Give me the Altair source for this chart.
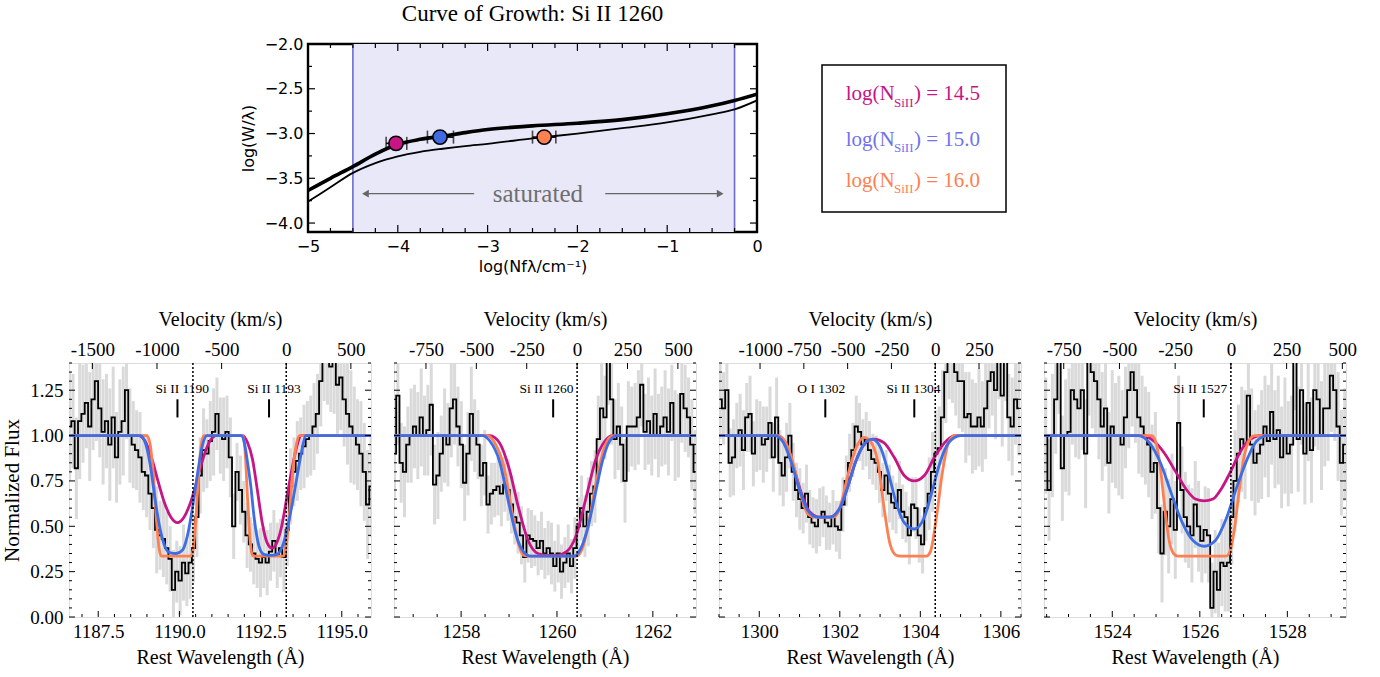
import altair as alt
import pandas as pd

C_KMS = 299792.458
SERIF = "Liberation Serif"
SANS = "DejaVu Sans"
MAG = "#C71585"
BLU = "#3D6EE6"
ORA = "#FF7F50"

# ---------------- Curve of growth ----------------
COG_X = [-5.0, -4.75, -4.5, -4.25, -4.0, -3.75, -3.5, -3.25, -3.0, -2.5, -2.0, -1.5, -1.0, -0.5, -0.25, 0.0]
COG_THICK = [-3.636, -3.50, -3.37, -3.23, -3.12, -3.065, -3.03, -2.99, -2.955, -2.915, -2.885, -2.845, -2.78, -2.69, -2.63, -2.56]
COG_THIN = [-3.76, -3.60, -3.44, -3.33, -3.255, -3.205, -3.17, -3.14, -3.115, -3.055, -3.0, -2.94, -2.875, -2.785, -2.73, -2.63]
PT_X = [-4.02, -3.53, -2.37]
PT_Y = [-3.11, -3.04, -3.04]
PT_XLO = [-4.13, -3.67, -2.50]
PT_XHI = [-3.90, -3.38, -2.24]
PT_COLORS = [MAG, "#4169E1", "#FF8050"]
SAT_RANGE = [-4.5, -0.25]
ARROW_TAIL = [-3.15, -1.69]
ARROW_HEAD = [-4.36, -0.41]
ARROW_SHAPE = ["triangle-left", "triangle-right"]
ARROW_Y = -3.672
SAT_LABEL_X = -2.44
COG_XTICKS = [-5, -4, -3, -2, -1, 0]
COG_YTICKS = [-4.0, -3.5, -3.0, -2.5, -2.0]

# ---------------- Legend ----------------
LEG_VALUES = ["14.5", "15.0", "16.0"]
LEG_COLORS = ["#C71585", "#7272EE", "#FF7F50"]

# ---------------- Spectra ----------------
Y_MAJ = [0.0, 0.25, 0.5, 0.75, 1.0, 1.25]

P1_DOM = [1186.6, 1195.9]
P1_LAM0 = 1193.29
P1_START, P1_STEP = 1186.62, 0.1031
P1_FLUX = [1.05, 1.08, 0.82, 1.08, 1.12, 1.18, 1.05, 1.20, 1.30, 1.15,
           1.02, 1.08, 0.95, 1.10, 0.88, 1.02, 1.08, 1.25, 1.00, 0.95,
           0.92, 0.88, 0.80, 0.78, 0.68, 0.60, 0.48, 0.45, 0.43, 0.38,
           0.32, 0.15, 0.25, 0.20, 0.30, 0.24, 0.30, 0.38, 0.55, 0.78,
           0.92, 0.90, 0.97, 1.02, 1.12, 1.00, 0.98, 1.02, 0.88, 0.50,
           0.80, 0.70, 0.58, 0.45, 0.40, 0.35, 0.32, 0.30, 0.33, 0.30,
           0.36, 0.42, 0.34, 0.38, 0.33, 0.48, 0.72, 0.80, 0.86, 0.90,
           0.94, 0.98, 1.00, 1.05, 1.12, 1.30, 1.45, 1.45, 1.38, 1.42,
           1.28, 1.32, 1.20, 1.12, 1.05, 1.00, 0.95, 0.90, 0.80, 0.62,
           0.72]
P1_ERR = [0.30, 0.26, 0.28, 0.32, 0.27, 0.25, 0.30, 0.28, 0.33, 0.27,
          0.29, 0.26, 0.31, 0.28, 0.25, 0.29, 0.30, 0.27, 0.26, 0.24,
          0.22, 0.25, 0.21, 0.23, 0.20, 0.22, 0.24, 0.19, 0.21, 0.20,
          0.18, 0.22, 0.17, 0.19, 0.21, 0.18, 0.20, 0.19, 0.22, 0.21,
          0.23, 0.19, 0.22, 0.24, 0.20, 0.21, 0.23, 0.20, 0.22, 0.18,
          0.16, 0.19, 0.17, 0.18, 0.15, 0.17, 0.16, 0.19, 0.17, 0.18,
          0.16, 0.17, 0.18, 0.16, 0.19, 0.20, 0.21, 0.19, 0.22, 0.20,
          0.23, 0.21, 0.22, 0.24, 0.22, 0.25, 0.26, 0.28, 0.25, 0.30,
          0.27, 0.29, 0.26, 0.28, 0.31, 0.27, 0.25, 0.29, 0.27, 0.30,
          0.28]
P1_MAG_W = [1186.6, 1188.74, 1188.94, 1189.14, 1189.34, 1189.54, 1189.74, 1189.94, 1190.14, 1190.34, 1190.54, 1190.74, 1190.94, 1191.14,
            1191.95, 1192.1, 1192.25, 1192.4, 1192.55, 1192.7, 1192.85, 1193.0, 1193.15, 1193.3, 1193.45, 1193.6, 1193.75, 1195.9]
P1_MAG_F = [1.0, 1.0, 0.97, 0.88, 0.75, 0.63, 0.55, 0.52, 0.55, 0.63, 0.75, 0.88, 0.97, 1.0,
            1.0, 0.96, 0.87, 0.70, 0.52, 0.41, 0.38, 0.41, 0.50, 0.65, 0.80, 0.93, 1.0, 1.0]
P1_BLU_W = [1186.6, 1188.8, 1188.95, 1189.1, 1189.25, 1189.4, 1189.55, 1189.7, 1189.9, 1190.1, 1190.25, 1190.4, 1190.55, 1190.7, 1190.85,
            1191.9, 1192.0, 1192.1, 1192.2, 1192.3, 1192.45, 1192.6, 1192.8, 1193.0, 1193.15, 1193.3, 1193.45, 1193.6, 1193.75, 1193.9, 1195.9]
P1_BLU_F = [1.0, 1.0, 0.96, 0.84, 0.65, 0.49, 0.39, 0.355, 0.35, 0.37, 0.45, 0.60, 0.78, 0.94, 1.0,
            1.0, 0.96, 0.85, 0.72, 0.55, 0.39, 0.345, 0.34, 0.345, 0.38, 0.47, 0.60, 0.75, 0.90, 1.0, 1.0]
P1_ORA_W = [1186.6, 1189.0, 1189.1, 1189.2, 1189.3, 1189.38, 1189.45, 1190.35, 1190.42, 1190.5, 1190.58, 1190.66, 1190.75,
            1191.95, 1192.02, 1192.1, 1192.18, 1192.25, 1192.32, 1193.2, 1193.28, 1193.38, 1193.48, 1193.58, 1193.7, 1195.9]
P1_ORA_F = [1.0, 1.0, 0.95, 0.78, 0.52, 0.37, 0.335, 0.335, 0.37, 0.52, 0.75, 0.93, 1.0,
            1.0, 0.92, 0.65, 0.42, 0.34, 0.335, 0.335, 0.38, 0.55, 0.78, 0.93, 1.0, 1.0]
P1_DOTTED = [1190.416, 1193.29]
P1_MARKS = [1189.94, 1192.76]
P1_LABELS = ["Si II 1190", "Si II 1193"]
P1_LABEL_W = [1190.09, 1192.91]
P1_XMAJ = [1187.5, 1190.0, 1192.5, 1195.0]
P1_VTICKS = [-1500, -1000, -500, 0, 500]

P2_DOM = [1256.6, 1262.9]
P2_LAM0 = 1260.42
P2_START, P2_STEP = 1256.61, 0.0697
P2_FLUX = [0.90, 1.22, 0.85, 0.80, 0.95, 1.00, 1.05, 1.00, 1.10, 1.00,
           1.03, 1.17, 0.73, 0.78, 0.90, 1.00, 0.95, 1.15, 1.20, 1.05,
           0.95, 0.74, 0.90, 1.12, 1.00, 0.95, 0.78, 0.85, 0.62, 0.68,
           0.70, 0.72, 0.68, 0.73, 0.70, 0.62, 0.55, 0.52, 0.45, 0.33,
           0.45, 0.43, 0.42, 0.38, 0.42, 0.35, 0.38, 0.35, 0.28, 0.35,
           0.25, 0.30, 0.35, 0.28, 0.38, 0.50, 0.60, 0.50, 0.58, 0.68,
           0.72, 0.98, 1.15, 1.10, 1.45, 1.20, 0.98, 1.05, 0.95, 0.75,
           1.05, 1.05, 1.05, 1.10, 1.28, 1.02, 1.08, 1.00, 1.12, 1.00,
           1.05, 1.10, 1.02, 1.18, 1.00, 1.00, 1.23, 1.15, 1.10, 0.95,
           0.80]
P2_ERR = [0.24, 0.27, 0.22, 0.25, 0.21, 0.26, 0.23, 0.24, 0.27, 0.22,
          0.25, 0.28, 0.22, 0.24, 0.21, 0.26, 0.23, 0.27, 0.25, 0.22,
          0.24, 0.21, 0.23, 0.26, 0.20, 0.19, 0.17, 0.18, 0.16, 0.17,
          0.15, 0.16, 0.18, 0.15, 0.17, 0.16, 0.15, 0.17, 0.16, 0.14,
          0.15, 0.16, 0.14, 0.15, 0.16, 0.14, 0.15, 0.17, 0.14, 0.16,
          0.15, 0.14, 0.16, 0.15, 0.17, 0.16, 0.18, 0.17, 0.19, 0.18,
          0.20, 0.24, 0.26, 0.23, 0.28, 0.25, 0.22, 0.24, 0.21, 0.23,
          0.25, 0.22, 0.24, 0.26, 0.23, 0.21, 0.24, 0.22, 0.25, 0.23,
          0.22, 0.26, 0.24, 0.21, 0.25, 0.23, 0.27, 0.24, 0.22, 0.25,
          0.23]
P2_MAG_W = [1256.6, 1258.6, 1258.8, 1259.0, 1259.2, 1259.4, 1259.6, 1259.8, 1260.0, 1260.2, 1260.4, 1260.6, 1260.8, 1261.0, 1261.15, 1262.9]
P2_MAG_F = [1.0, 1.0, 0.96, 0.82, 0.60, 0.42, 0.35, 0.34, 0.34, 0.36, 0.45, 0.65, 0.86, 0.97, 1.0, 1.0]
P2_BLU_W = [1256.6, 1258.45, 1258.6, 1258.8, 1259.0, 1259.15, 1259.3, 1259.45, 1260.35, 1260.5, 1260.65, 1260.8, 1260.95, 1261.1, 1261.25, 1262.9]
P2_BLU_F = [1.0, 1.0, 0.97, 0.86, 0.62, 0.45, 0.36, 0.335, 0.335, 0.38, 0.50, 0.68, 0.86, 0.97, 1.0, 1.0]
P2_ORA_W = [1256.6, 1258.55, 1258.7, 1258.9, 1259.05, 1259.2, 1259.3, 1259.4, 1260.4, 1260.5, 1260.65, 1260.8, 1260.95, 1261.1, 1261.2, 1262.9]
P2_ORA_F = [1.0, 1.0, 0.96, 0.82, 0.60, 0.40, 0.34, 0.335, 0.335, 0.36, 0.50, 0.72, 0.90, 0.99, 1.0, 1.0]
P2_DOTTED = [1260.42]
P2_MARKS = [1259.92]
P2_LABELS = ["Si II 1260"]
P2_LABEL_W = [1259.78]
P2_XMAJ = [1258, 1260, 1262]
P2_VTICKS = [-750, -500, -250, 0, 250, 500]

P3_DOM = [1299.0, 1306.5]
P3_LAM0 = 1304.37
P3_START, P3_STEP = 1299.03, 0.0824
P3_FLUX = [1.20, 1.15, 1.25, 0.85, 0.88, 1.00, 1.03, 0.92, 1.10, 1.12,
           0.90, 1.00, 1.00, 0.95, 0.98, 1.07, 0.88, 1.10, 0.85, 0.78,
           0.88, 1.00, 0.80, 0.70, 0.65, 0.60, 0.68, 0.55, 0.52, 0.50,
           0.55, 0.58, 0.52, 0.50, 0.55, 0.50, 0.48, 0.62, 0.75, 0.85,
           0.92, 1.05, 1.02, 0.95, 0.98, 0.92, 0.87, 0.85, 0.80, 0.70,
           0.78, 0.68, 0.63, 0.60, 0.70, 0.58, 0.55, 0.45, 0.62, 0.60,
           0.45, 0.40, 0.60, 0.68, 0.80, 0.90, 0.93, 1.10, 1.35, 1.45,
           1.45, 1.35, 1.30, 1.30, 1.10, 1.12, 1.05, 1.05, 1.10, 1.05,
           1.15, 1.30, 1.35, 1.25, 1.45, 1.22, 1.45, 1.10, 1.05, 1.20,
           1.15]
P3_ERR = [0.22, 0.20, 0.24, 0.19, 0.21, 0.18, 0.20, 0.22, 0.19, 0.21,
          0.18, 0.20, 0.19, 0.21, 0.18, 0.20, 0.19, 0.22, 0.18, 0.17,
          0.19, 0.18, 0.16, 0.15, 0.17, 0.14, 0.16, 0.15, 0.14, 0.15,
          0.16, 0.14, 0.15, 0.13, 0.15, 0.14, 0.16, 0.15, 0.14, 0.16,
          0.15, 0.17, 0.16, 0.14, 0.15, 0.16, 0.14, 0.15, 0.17, 0.15,
          0.14, 0.16, 0.15, 0.14, 0.16, 0.15, 0.14, 0.16, 0.15, 0.17,
          0.15, 0.16, 0.18, 0.20, 0.22, 0.24, 0.23, 0.26, 0.28, 0.25,
          0.27, 0.24, 0.26, 0.28, 0.25, 0.23, 0.26, 0.24, 0.27, 0.25,
          0.28, 0.26, 0.24, 0.27, 0.25, 0.28, 0.26, 0.24, 0.27, 0.25,
          0.26]
P3_MAG_W = [1299.0, 1300.45, 1300.65, 1300.85, 1301.05, 1301.25, 1301.5, 1301.75, 1302.0, 1302.2, 1302.4, 1302.6, 1302.85,
            1303.1, 1303.35, 1303.6, 1303.85, 1304.1, 1304.35, 1304.6, 1304.85, 1306.5]
P3_MAG_F = [1.0, 1.0, 0.96, 0.83, 0.68, 0.58, 0.55, 0.55, 0.60, 0.72, 0.86, 0.95, 0.98,
            0.96, 0.88, 0.78, 0.75, 0.78, 0.88, 0.96, 1.0, 1.0]
P3_BLU_W = [1299.0, 1300.4, 1300.6, 1300.8, 1301.0, 1301.2, 1301.45, 1301.75, 1302.0, 1302.2, 1302.4, 1302.6, 1302.8,
            1303.0, 1303.2, 1303.4, 1303.6, 1303.85, 1304.1, 1304.3, 1304.5, 1304.7, 1305.0, 1306.5]
P3_BLU_F = [1.0, 1.0, 0.96, 0.85, 0.70, 0.59, 0.55, 0.55, 0.60, 0.72, 0.86, 0.95, 0.98,
            0.94, 0.80, 0.63, 0.52, 0.485, 0.55, 0.70, 0.86, 0.96, 1.0, 1.0]
P3_ORA_W = [1299.0, 1300.45, 1300.6, 1300.8, 1301.0, 1301.2, 1301.4, 1301.85, 1302.0, 1302.2, 1302.4, 1302.6, 1302.75,
            1302.95, 1303.1, 1303.25, 1303.4, 1303.5, 1304.15, 1304.25, 1304.4, 1304.55, 1304.7, 1304.85, 1306.5]
P3_ORA_F = [1.0, 1.0, 0.98, 0.88, 0.70, 0.57, 0.55, 0.55, 0.60, 0.78, 0.93, 0.99, 0.97,
            0.85, 0.60, 0.40, 0.34, 0.335, 0.335, 0.36, 0.55, 0.80, 0.96, 1.0, 1.0]
P3_DOTTED = [1304.37]
P3_MARKS = [1301.64, 1303.85]
P3_LABELS = ["O I 1302", "Si II 1304"]
P3_LABEL_W = [1301.54, 1303.83]
P3_XMAJ = [1300, 1302, 1304, 1306]
P3_VTICKS = [-1000, -750, -500, -250, 0, 250]

P4_DOM = [1522.44, 1529.34]
P4_LAM0 = 1526.71
P4_START, P4_STEP = 1522.48, 0.0759
P4_FLUX = [1.00, 0.70, 1.00, 1.20, 1.45, 0.82, 1.00, 1.02, 1.25, 1.20,
           1.15, 1.25, 0.90, 1.45, 1.35, 1.30, 1.20, 1.05, 1.15, 0.85,
           1.05, 1.00, 1.00, 0.95, 1.10, 1.25, 1.35, 1.25, 1.10, 1.05,
           1.00, 0.95, 0.80, 0.85, 0.60, 0.35, 0.58, 0.50, 0.65, 0.48,
           1.07, 0.70, 0.55, 0.50, 0.45, 0.62, 0.50, 0.42, 0.48, 0.45,
           0.05, 0.25, 0.15, 0.30, 0.28, 0.30, 0.55, 0.75, 0.90, 0.98,
           0.95, 1.22, 0.95, 0.85, 0.90, 0.95, 1.05, 0.97, 1.13, 0.98,
           1.03, 0.88, 1.00, 0.90, 0.95, 1.45, 0.98, 1.25, 0.90, 1.18,
           0.92, 1.25, 1.20, 1.00, 1.15, 1.15, 1.33, 1.25, 1.05, 0.85,
           0.95]
P4_ERR = [0.32, 0.28, 0.34, 0.30, 0.33, 0.29, 0.31, 0.35, 0.30, 0.32,
          0.28, 0.33, 0.30, 0.34, 0.31, 0.29, 0.33, 0.30, 0.32, 0.28,
          0.31, 0.29, 0.33, 0.30, 0.28, 0.32, 0.30, 0.29, 0.31, 0.28,
          0.27, 0.29, 0.26, 0.28, 0.25, 0.27, 0.24, 0.26, 0.25, 0.27,
          0.26, 0.24, 0.25, 0.23, 0.26, 0.24, 0.25, 0.23, 0.24, 0.26,
          0.25, 0.23, 0.26, 0.24, 0.25, 0.27, 0.26, 0.28, 0.27, 0.29,
          0.30, 0.28, 0.31, 0.29, 0.27, 0.30, 0.28, 0.31, 0.29, 0.27,
          0.30, 0.28, 0.32, 0.29, 0.27, 0.31, 0.29, 0.30, 0.28, 0.32,
          0.29, 0.31, 0.28, 0.30, 0.32, 0.29, 0.31, 0.28, 0.30, 0.29,
          0.31]
P4_MAG_W = [1522.44, 1524.7, 1524.95, 1525.2, 1525.45, 1525.7, 1525.9, 1526.1, 1526.3, 1526.5, 1526.7, 1526.9, 1527.1, 1527.4, 1529.34]
P4_MAG_F = [1.0, 1.0, 0.97, 0.90, 0.80, 0.70, 0.65, 0.64, 0.65, 0.71, 0.80, 0.90, 0.97, 1.0, 1.0]
P4_BLU_W = [1522.44, 1524.6, 1524.85, 1525.1, 1525.35, 1525.6, 1525.85, 1526.1, 1526.35, 1526.6, 1526.85, 1527.1, 1527.3, 1527.55, 1529.34]
P4_BLU_F = [1.0, 1.0, 0.96, 0.85, 0.68, 0.52, 0.42, 0.39, 0.42, 0.54, 0.72, 0.88, 0.97, 1.0, 1.0]
P4_ORA_W = [1522.44, 1524.9, 1525.0, 1525.1, 1525.2, 1525.3, 1525.4, 1525.5, 1526.6, 1526.7, 1526.8, 1526.9, 1527.0, 1527.1, 1527.25, 1529.34]
P4_ORA_F = [1.0, 1.0, 0.96, 0.82, 0.60, 0.42, 0.35, 0.335, 0.335, 0.37, 0.50, 0.70, 0.87, 0.96, 1.0, 1.0]
P4_DOTTED = [1526.71]
P4_MARKS = [1526.09]
P4_LABELS = ["Si II 1527"]
P4_LABEL_W = [1526.01]
P4_XMAJ = [1524, 1526, 1528]
P4_VTICKS = [-750, -500, -250, 0, 250, 500]

MARK_LO, MARK_HI, LABEL_Y = 1.10, 1.20, 1.255


def minor_ticks(lo, hi, step, majors):
    out = []
    k = 0
    while lo + k * step <= hi + 1e-9:
        v = round(lo + k * step, 4)
        if all(abs(v - m) > 1e-6 for m in majors):
            out.append(v)
        k += 1
    return out


def inward_ticks(xmaj, xmin, ymaj, ymin, xs, ys, xax, yax, W, H, top=True, lmaj=6, lmin=3, sw=1.0):
    layers = []
    for vals, L in ((xmaj, lmaj), (xmin, lmin)):
        base = alt.Chart(pd.DataFrame({"t": vals})).mark_rule(color="black", strokeWidth=sw)
        layers.append(base.encode(x=alt.X("t:Q", scale=xs, axis=xax), y=alt.value(H), y2=alt.value(H - L)))
        if top:
            layers.append(base.encode(x=alt.X("t:Q", scale=xs, axis=xax), y=alt.value(0), y2=alt.value(L)))
    for vals, L in ((ymaj, lmaj), (ymin, lmin)):
        base = alt.Chart(pd.DataFrame({"t": vals})).mark_rule(color="black", strokeWidth=sw)
        layers.append(base.encode(y=alt.Y("t:Q", scale=ys, axis=yax), x=alt.value(0), x2=alt.value(L)))
        layers.append(base.encode(y=alt.Y("t:Q", scale=ys, axis=yax), x=alt.value(W), x2=alt.value(W - L)))
    return layers


# ---------------- CoG chart ----------------
W0, H0 = 449, 188
cx = alt.Scale(domain=[-5, 0], nice=False, zero=False)
cy = alt.Scale(domain=[-4.1, -2.0], nice=False, zero=False)
cxa = alt.Axis(values=COG_XTICKS, format="d", title="log(Nfλ/cm⁻¹)", ticks=False, domain=False, grid=False,
               labelFont=SANS, labelFontSize=16, labelPadding=6, labelFlush=False,
               labelColor="black", titleColor="black",
               titleFont=SANS, titleFontSize=16, titleFontWeight="normal", titlePadding=4)
cya = alt.Axis(values=COG_YTICKS, format=".1f", title="log(W/λ)", ticks=False, domain=False, grid=False,
               labelFont=SANS, labelFontSize=16, labelPadding=5, labelColor="black",
               titleColor="black",
               titleFont=SANS, titleFontSize=16, titleFontWeight="normal", titlePadding=8)


def CX(f):
    return alt.X(f, scale=cx, axis=cxa)


def CY(f):
    return alt.Y(f, scale=cy, axis=cya)


band = alt.Chart(pd.DataFrame({"x0": [SAT_RANGE[0]], "x1": [SAT_RANGE[1]]})).mark_rect(color="#E8E8F8").encode(
    x=CX("x0:Q"), x2="x1:Q", y=alt.value(0), y2=alt.value(H0))
edges = alt.Chart(pd.DataFrame({"e": SAT_RANGE})).mark_rule(color="#6A6AD2", strokeWidth=1.6).encode(x=CX("e:Q"))

cog_df = pd.DataFrame({"x": COG_X, "thick": COG_THICK, "thin": COG_THIN})
thick = alt.Chart(cog_df).mark_line(color="black", strokeWidth=3.6, interpolate="monotone", clip=True).encode(
    x=CX("x:Q"), y=CY("thick:Q"))
thin = alt.Chart(cog_df).mark_line(color="black", strokeWidth=1.8, interpolate="monotone", clip=True).encode(
    x=CX("x:Q"), y=CY("thin:Q"))

pts_df = pd.DataFrame({"x": PT_X, "y": PT_Y, "lo": PT_XLO, "hi": PT_XHI, "c": PT_COLORS})
ebar = alt.Chart(pts_df).mark_rule(color="black", strokeWidth=1.6).encode(x=CX("lo:Q"), x2="hi:Q", y=CY("y:Q"))
caps_df = pd.DataFrame({"x": PT_XLO + PT_XHI, "y": PT_Y + PT_Y})
caps = alt.Chart(caps_df).mark_tick(color="black", orient="vertical", size=13, thickness=1.6).encode(
    x=CX("x:Q"), y=CY("y:Q"))
pts = alt.Chart(pts_df).mark_circle(size=205, stroke="black", strokeWidth=1.6, opacity=1).encode(
    x=CX("x:Q"), y=CY("y:Q"), fill=alt.Fill("c:N", scale=None))

arr_df = pd.DataFrame({"t": ARROW_TAIL, "h": ARROW_HEAD, "y": [ARROW_Y, ARROW_Y], "s": ARROW_SHAPE})
arr_lines = alt.Chart(arr_df).mark_rule(color="#666666", strokeWidth=1.3).encode(x=CX("t:Q"), x2="h:Q", y=CY("y:Q"))
arr_heads = alt.Chart(arr_df).mark_point(filled=True, color="#666666", size=60, opacity=1).encode(
    x=CX("h:Q"), y=CY("y:Q"), shape=alt.Shape("s:N", scale=None))
sat_text = alt.Chart(pd.DataFrame({"x": [SAT_LABEL_X], "y": [ARROW_Y], "t": ["saturated"]})).mark_text(
    font=SERIF, fontSize=25, color="#6E6E6E", baseline="middle").encode(x=CX("x:Q"), y=CY("y:Q"), text="t:N")

cog_ticks = inward_ticks(COG_XTICKS, minor_ticks(-5, 0, 0.25, COG_XTICKS), COG_YTICKS,
                         minor_ticks(-4.0, -2.0, 0.25, COG_YTICKS), cx, cy, cxa, cya, W0, H0,
                         top=True, lmaj=7, lmin=4, sw=1.2)

cog = alt.layer(band, edges, thick, thin, ebar, caps, pts, arr_lines, arr_heads, sat_text, *cog_ticks).properties(
    width=W0, height=H0,
    title=alt.TitleParams("Curve of Growth: Si II 1260", font=SERIF, fontSize=23, fontWeight="normal", color="black", offset=10),
    view=alt.ViewBackground(stroke="black", strokeWidth=2.4))

# ---------------- Legend box ----------------
LW, LH = 186, 188
one = pd.DataFrame({"a": [0]})
leg_layers = [alt.Chart(one).mark_rect(fillOpacity=0, stroke="black", strokeWidth=1.5).encode(
    x=alt.value(1), x2=alt.value(185), y=alt.value(21), y2=alt.value(168))]
base_y = [56, 101.7, 142.7]
for val, col, by in zip(LEG_VALUES, LEG_COLORS, base_y):
    leg_layers.append(alt.Chart(one).mark_text(font=SERIF, fontSize=21, color=col, align="left", baseline="alphabetic").encode(
        x=alt.value(24.7), y=alt.value(by), text=alt.value("log(N")))
    leg_layers.append(alt.Chart(one).mark_text(font=SERIF, fontSize=13, color=col, align="left", baseline="alphabetic").encode(
        x=alt.value(73), y=alt.value(by + 6.5), text=alt.value("SiII")))
    leg_layers.append(alt.Chart(one).mark_text(font=SERIF, fontSize=21, color=col, align="left", baseline="alphabetic").encode(
        x=alt.value(93), y=alt.value(by), text=alt.value(") = " + val)))
legend = alt.layer(*leg_layers).properties(width=LW, height=LH, view=alt.ViewBackground(stroke="transparent"))

SPACER_W = 175
spacer = alt.Chart(one).mark_point(opacity=0).encode(x=alt.value(0), y=alt.value(0)).properties(
    width=SPACER_W, height=188, view=alt.ViewBackground(stroke="transparent"))


# ---------------- Spectral panels ----------------
def build_panel(flux, err, start, step, dom, lam0, xmaj, xfmt, vticks, models, dotted, marks, labels, label_w, show_y):
    W, H = 302, 254
    xs = alt.Scale(domain=dom, nice=False, zero=False)
    ys = alt.Scale(domain=[0, 1.4], nice=False, zero=False)
    n = min(len(flux), len(err))
    df = pd.DataFrame({
        "w": [start + step * k for k in range(n)],
        "f": flux[:n],
        "lo": [flux[k] - err[k] for k in range(n)],
        "hi": [flux[k] + err[k] for k in range(n)],
    })
    xa = alt.Axis(values=xmaj, format=xfmt, title="Rest Wavelength (Å)", ticks=False, domain=False, grid=False,
                  labelFont=SERIF, labelFontSize=19, labelPadding=5, labelFlush=False, labelOverlap=False,
                  labelColor="black", titleColor="black",
                  titleFont=SERIF, titleFontSize=20, titleFontWeight="normal", titlePadding=6)
    if show_y:
        ya = alt.Axis(values=Y_MAJ, format=".2f", title="Normalized Flux", ticks=False, domain=False, grid=False,
                      labelFont=SERIF, labelFontSize=19, labelPadding=6, labelColor="black", titleColor="black",
                      titleFont=SERIF, titleFontSize=21, titleFontWeight="normal", titlePadding=7)
    else:
        ya = None

    def X(f):
        return alt.X(f, scale=xs, axis=xa)

    def Y(f):
        return alt.Y(f, scale=ys, axis=ya)

    errl = alt.Chart(df).mark_rule(color="#DADADA", strokeWidth=3.0, clip=True).encode(
        x=X("w:Q"), y=Y("lo:Q"), y2="hi:Q")
    spec = alt.Chart(df).mark_line(interpolate="step", color="black", strokeWidth=1.8, clip=True).encode(
        x=X("w:Q"), y=Y("f:Q"))
    mlayers = []
    for mw, mf, col in models:
        mdf = pd.DataFrame({"w": mw, "f": mf})
        mlayers.append(alt.Chart(mdf).mark_line(interpolate="monotone", color=col, strokeWidth=2.8, clip=True).encode(
            x=X("w:Q"), y=Y("f:Q")))
    dots = alt.Chart(pd.DataFrame({"w": dotted})).mark_rule(color="black", strokeWidth=1.5, strokeDash=[2, 2]).encode(
        x=X("w:Q"))
    mdf = pd.DataFrame({"w": marks, "lo": [MARK_LO] * len(marks), "hi": [MARK_HI] * len(marks)})
    mk = alt.Chart(mdf).mark_rule(color="black", strokeWidth=2).encode(x=X("w:Q"), y=Y("lo:Q"), y2="hi:Q")
    ldf = pd.DataFrame({"w": label_w, "y": [LABEL_Y] * len(labels), "t": labels})
    lt = alt.Chart(ldf).mark_text(font=SERIF, fontSize=13.5, color="black", baseline="middle").encode(
        x=X("w:Q"), y=Y("y:Q"), text="t:N")
    xmin = minor_ticks(round(dom[0] * 2) / 2, dom[1], 0.5, xmaj)
    xmin = [v for v in xmin if dom[0] <= v <= dom[1]]
    ticks = inward_ticks(xmaj, xmin, Y_MAJ, minor_ticks(0.0, 1.4, 0.05, Y_MAJ), xs, ys, xa, ya, W, H, top=False)
    inner = alt.layer(errl, spec, *mlayers, dots, mk, lt, *ticks)
    vmin = C_KMS * (dom[0] / lam0 - 1)
    vmax = C_KMS * (dom[1] / lam0 - 1)
    vs = alt.Scale(domain=[vmin, vmax], nice=False, zero=False)
    vel = alt.Chart(pd.DataFrame({"v": vticks})).mark_rule(color="black", strokeWidth=1).encode(
        x=alt.X("v:Q", scale=vs, axis=alt.Axis(orient="top", values=vticks, format="d", title="Velocity (km/s)",
                                               ticks=False, domain=False, grid=False, labelFont=SERIF, labelFontSize=19,
                                               labelPadding=4, labelFlush=False, labelOverlap=False,
                                               labelColor="black", titleColor="black",
                                               labelExpr="replace(datum.label, '\u2212', '-')",
                                               titleFont=SERIF, titleFontSize=20, titleFontWeight="normal",
                                               titlePadding=11)),
        y=alt.value(0), y2=alt.value(6))
    return alt.layer(inner, vel).resolve_scale(x="independent").properties(width=W, height=H)


p1 = build_panel(P1_FLUX, P1_ERR, P1_START, P1_STEP, P1_DOM, P1_LAM0, P1_XMAJ, ".1f", P1_VTICKS,
                 [(P1_MAG_W, P1_MAG_F, MAG), (P1_ORA_W, P1_ORA_F, ORA), (P1_BLU_W, P1_BLU_F, BLU)],
                 P1_DOTTED, P1_MARKS, P1_LABELS, P1_LABEL_W, True)
p2 = build_panel(P2_FLUX, P2_ERR, P2_START, P2_STEP, P2_DOM, P2_LAM0, P2_XMAJ, "d", P2_VTICKS,
                 [(P2_MAG_W, P2_MAG_F, MAG), (P2_ORA_W, P2_ORA_F, ORA), (P2_BLU_W, P2_BLU_F, BLU)],
                 P2_DOTTED, P2_MARKS, P2_LABELS, P2_LABEL_W, False)
p3 = build_panel(P3_FLUX, P3_ERR, P3_START, P3_STEP, P3_DOM, P3_LAM0, P3_XMAJ, "d", P3_VTICKS,
                 [(P3_MAG_W, P3_MAG_F, MAG), (P3_ORA_W, P3_ORA_F, ORA), (P3_BLU_W, P3_BLU_F, BLU)],
                 P3_DOTTED, P3_MARKS, P3_LABELS, P3_LABEL_W, False)
p4 = build_panel(P4_FLUX, P4_ERR, P4_START, P4_STEP, P4_DOM, P4_LAM0, P4_XMAJ, "d", P4_VTICKS,
                 [(P4_MAG_W, P4_MAG_F, MAG), (P4_ORA_W, P4_ORA_F, ORA), (P4_BLU_W, P4_BLU_F, BLU)],
                 P4_DOTTED, P4_MARKS, P4_LABELS, P4_LABEL_W, False)

top_row = alt.hconcat(spacer, cog, legend, spacing=64, bounds="flush")
bottom_row = alt.hconcat(p1, p2, p3, p4, spacing=23, bounds="flush")

chart = alt.vconcat(top_row, bottom_row, spacing=32, bounds="full").properties(
    padding={"left": 1, "top": 1, "right": 5, "bottom": 5}
).configure_view(stroke="black", strokeWidth=1.2).configure_axis(
    grid=False, labelFont=SERIF, titleFont=SERIF
).configure(background="white")

chart.save("out.html", embed_options={"renderer": "svg", "actions": False})
